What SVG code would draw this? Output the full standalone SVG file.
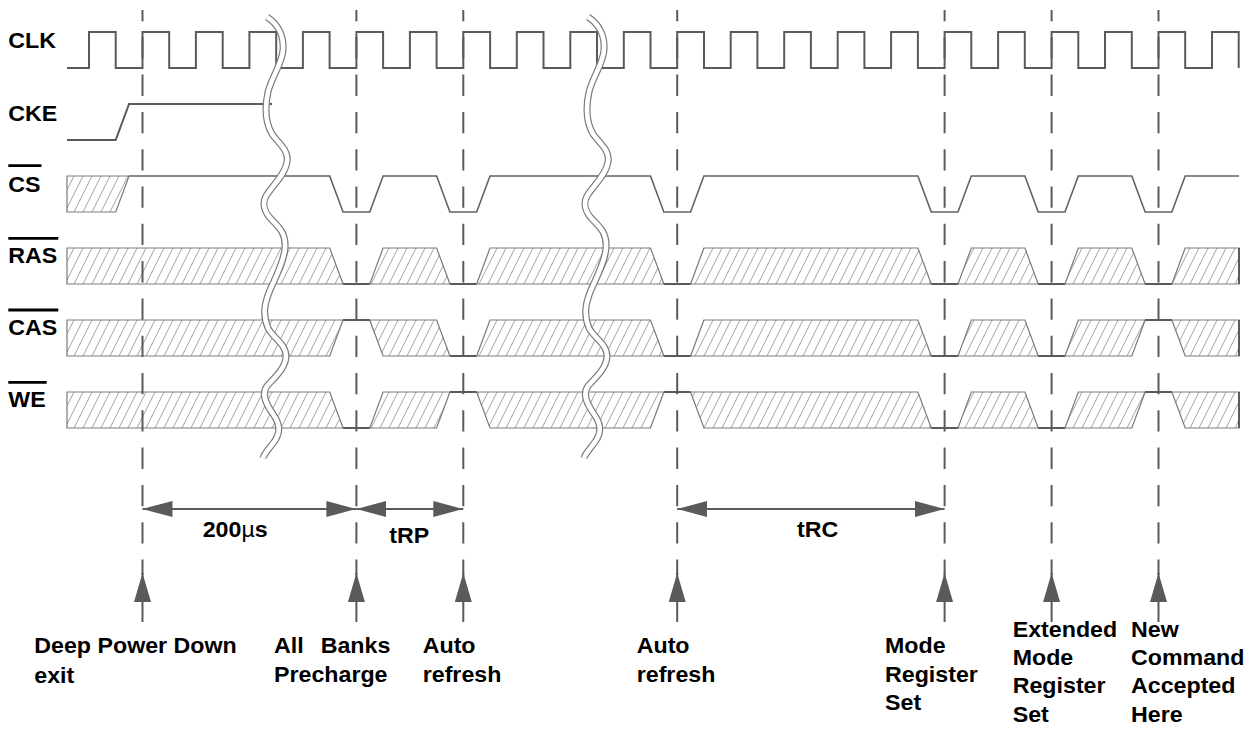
<svg xmlns="http://www.w3.org/2000/svg" width="1259" height="736" viewBox="0 0 1259 736">
<style>
.lbl{font-family:"Liberation Sans",Arial,sans-serif;font-weight:bold;font-size:21.5px;fill:#000}
.mu{font-weight:normal}
.sig{fill:none;stroke:#5a5a5a;stroke-width:2;stroke-linejoin:miter}
.cs{fill:none;stroke:#636363;stroke-width:1.6}
.hat{fill:url(#hatch);stroke:#7a7a7a;stroke-width:1.2}
.lvl{fill:none;stroke:#5a5a5a;stroke-width:2}
.dash{stroke:#5a5a5a;stroke-width:2;stroke-dasharray:21.3 16;stroke-dashoffset:10}
.ovl{stroke:#000;stroke-width:2.8}
.brkO{fill:none;stroke:#7a7a7a;stroke-width:7}
.brkI{fill:none;stroke:#fff;stroke-width:4.6}
.dim{stroke:#5a5a5a;stroke-width:2;marker-start:url(#dimHead);marker-end:url(#dimHead)}
.up{stroke:#5a5a5a;stroke-width:2;marker-end:url(#upHead)}
</style>
<defs>
<pattern id="hatch" patternUnits="userSpaceOnUse" width="9" height="18">
<path d="M-9,18 L0,0 M0,18 L9,0 M9,18 L18,0" stroke="#8c8c8c" stroke-width="0.8" fill="none"/>
</pattern>
<marker id="dimHead" viewBox="0 0 30 16" refX="30" refY="8" markerWidth="30" markerHeight="16" markerUnits="userSpaceOnUse" orient="auto-start-reverse">
<path d="M0,0 L30,8 L0,16 Z" fill="#5a5a5a"/>
</marker>
<marker id="upHead" viewBox="0 0 29 17" refX="29" refY="8.5" markerWidth="29" markerHeight="17" markerUnits="userSpaceOnUse" orient="auto">
<path d="M0,0 L29,8.5 L0,17 Z" fill="#5a5a5a"/>
</marker>
<path id="brk" d="M267,17 C278,24 284,36 283,50 C282,64 272,76 268,92 C265,106 265,122 272,134 C279,144 289,150 287,162 C285,175 272,186 266,196 C262,203 264,212 272,220 C280,228 286,234 285,248 C284,262 276,276 270,290 C265,302 262,314 268,328 C273,338 286,344 286,356 C286,368 274,378 267,386 C261,394 266,404 273,414 C280,424 281,432 274,442 C268,450 264,454 263,458"/>
</defs>

<g id="CLK">
<path class="sig" d="M67,68 H89 V32 H115.7 V68 H142.5 V32 H169.2 V68 H195.9 V32 H222.7 V68 H249.4 V32 H276.2 V68 H302.9 V32 H329.6 V68 H356.4 V32 H383.1 V68 H409.9 V32 H436.6 V68 H463.3 V32 H490.1 V68 H516.8 V32 H543.5 V68 H570.3 V32 H597 V68 H623.8 V32 H650.5 V68 H677.2 V32 H704 V68 H730.7 V32 H757.4 V68 H784.2 V32 H810.9 V68 H837.7 V32 H864.4 V68 H891.1 V32 H917.9 V68 H944.6 V32 H971.3 V68 H998.1 V32 H1024.8 V68 H1051.6 V32 H1078.3 V68 H1105 V32 H1131.8 V68 H1158.5 V32 H1185.2 V68 H1212 V32 H1238.7 V68"/>
</g>

<g id="CKE">
<path class="sig" d="M67,140 H115.7 L129.05,104 H272" stroke-width="1.8"/>
</g>

<g id="CS">
<polygon class="hat" points="67,176 129.05,176 115.7,212 67,212"/>
<path class="cs" d="M129.05,176 H329.7 L343.05,212 H369.75 L383.1,176 H436.6 L449.95,212 H476.65 L490,176 H650.5 L663.85,212 H690.55 L703.9,176 H917.9 L931.25,212 H957.95 L971.3,176 H1024.9 L1038.25,212 H1064.95 L1078.3,176 H1131.8 L1145.15,212 H1171.85 L1185.2,176 H1239"/>
</g>

<g id="RAS">
<polygon class="hat" points="67,248 329.7,248 343.05,284 67,284"/>
<polygon class="hat" points="369.75,284 383.1,248 436.6,248 449.95,284"/>
<polygon class="hat" points="476.65,284 490,248 650.5,248 663.85,284"/>
<polygon class="hat" points="690.55,284 703.9,248 917.9,248 931.25,284"/>
<polygon class="hat" points="957.95,284 971.3,248 1024.9,248 1038.25,284"/>
<polygon class="hat" points="1064.95,284 1078.3,248 1131.8,248 1145.15,284"/>
<polygon class="hat" points="1171.85,284 1185.2,248 1239,248 1239,284"/>
<path class="lvl" d="M343.05,284 H369.75 M449.95,284 H476.65 M663.85,284 H690.55 M931.25,284 H957.95 M1038.25,284 H1064.95 M1145.15,284 H1171.85 M1239,248 V284"/>
</g>

<g id="CAS">
<polygon class="hat" points="67,320 343.05,320 329.7,356 67,356"/>
<polygon class="hat" points="369.75,320 436.6,320 449.95,356 383.1,356"/>
<polygon class="hat" points="476.65,356 490,320 650.5,320 663.85,356"/>
<polygon class="hat" points="690.55,356 703.9,320 917.9,320 931.25,356"/>
<polygon class="hat" points="957.95,356 971.3,320 1024.9,320 1038.25,356"/>
<polygon class="hat" points="1064.95,356 1078.3,320 1145.15,320 1131.8,356"/>
<polygon class="hat" points="1171.85,320 1239,320 1239,356 1185.2,356"/>
<path class="lvl" d="M343.05,320 H369.75 M449.95,356 H476.65 M663.85,356 H690.55 M931.25,356 H957.95 M1038.25,356 H1064.95 M1145.15,320 H1171.85 M1239,320 V356"/>
</g>

<g id="WE">
<polygon class="hat" points="67,392 329.7,392 343.05,428 67,428"/>
<polygon class="hat" points="369.75,428 383.1,392 449.95,392 436.6,428"/>
<polygon class="hat" points="476.65,392 663.85,392 650.5,428 490,428"/>
<polygon class="hat" points="690.55,392 917.9,392 931.25,428 703.9,428"/>
<polygon class="hat" points="957.95,428 971.3,392 1024.9,392 1038.25,428"/>
<polygon class="hat" points="1064.95,428 1078.3,392 1145.15,392 1131.8,428"/>
<polygon class="hat" points="1171.85,392 1239,392 1239,428 1185.2,428"/>
<path class="lvl" d="M343.05,428 H369.75 M449.95,392 H476.65 M663.85,392 H690.55 M931.25,428 H957.95 M1038.25,428 H1064.95 M1145.15,392 H1171.85 M1239,392 V428"/>
</g>

<g id="guides">
<line class="dash" x1="142.5" y1="10" x2="142.5" y2="575"/>
<line class="dash" x1="356.4" y1="10" x2="356.4" y2="575"/>
<line class="dash" x1="463.3" y1="10" x2="463.3" y2="575"/>
<line class="dash" x1="677.2" y1="10" x2="677.2" y2="575"/>
<line class="dash" x1="944.6" y1="10" x2="944.6" y2="575"/>
<line class="dash" x1="1051.6" y1="10" x2="1051.6" y2="575"/>
<line class="dash" x1="1158.5" y1="10" x2="1158.5" y2="575"/>
</g>

<g id="breaks">
<use href="#brk" class="brkO"/>
<use href="#brk" class="brkI"/>
<use href="#brk" class="brkO" transform="translate(321,0)"/>
<use href="#brk" class="brkI" transform="translate(321,0)"/>
</g>

<g id="signal-labels">
<text class="lbl" transform="translate(8.3,48.3) scale(1.08,1)">CLK</text>
<text class="lbl" transform="translate(8.3,120.5) scale(1.08,1)">CKE</text>
<text class="lbl" transform="translate(8.3,191.7) scale(1.08,1)">CS</text>
<text class="lbl" transform="translate(8.3,263.3) scale(1.08,1)">RAS</text>
<text class="lbl" transform="translate(8.3,335) scale(1.08,1)">CAS</text>
<text class="lbl" transform="translate(8.3,407.3) scale(1.08,1)">WE</text>
<line class="ovl" x1="8.3" y1="165.7" x2="41.5" y2="165.7"/>
<line class="ovl" x1="8.3" y1="238.3" x2="58.3" y2="238.3"/>
<line class="ovl" x1="8.3" y1="310" x2="58.3" y2="310"/>
<line class="ovl" x1="8.3" y1="382.3" x2="46.7" y2="382.3"/>
</g>

<g id="connectors">
<line class="dim" x1="142.5" y1="509" x2="356.4" y2="509"/>
<line class="dim" x1="356.4" y1="509" x2="463.3" y2="509"/>
<line class="dim" x1="677.2" y1="509" x2="944.6" y2="509"/>
<line class="up" x1="142.5" y1="622" x2="142.5" y2="573"/>
<line class="up" x1="356.4" y1="622" x2="356.4" y2="573"/>
<line class="up" x1="463.3" y1="622" x2="463.3" y2="573"/>
<line class="up" x1="677.2" y1="622" x2="677.2" y2="573"/>
<line class="up" x1="944.6" y1="622" x2="944.6" y2="573"/>
<line class="up" x1="1051.6" y1="622" x2="1051.6" y2="573"/>
<line class="up" x1="1158.5" y1="622" x2="1158.5" y2="573"/>
</g>

<g id="timing-labels">
<text class="lbl" transform="translate(202.7,536.7) scale(1.08,1)">200<tspan class="mu">µ</tspan>s</text>
<text class="lbl" transform="translate(389.3,543.3) scale(1.08,1)">tRP</text>
<text class="lbl" transform="translate(797,536.7) scale(1.08,1)">tRC</text>
</g>

<g id="ev-dpd"><text class="lbl" transform="translate(34.3,0) scale(1.08,1)"><tspan x="0" y="653">Deep Power Down</tspan><tspan x="0" y="683">exit</tspan></text></g>
<g id="ev-pre"><text class="lbl" transform="translate(274,0) scale(1.08,1)"><tspan x="0" y="653">All <tspan x="43.2">Banks</tspan></tspan><tspan x="0" y="682">Precharge</tspan></text></g>
<g id="ev-ar1"><text class="lbl" transform="translate(422.7,0) scale(1.08,1)"><tspan x="0" y="653">Auto</tspan><tspan x="0" y="682">refresh</tspan></text></g>
<g id="ev-ar2"><text class="lbl" transform="translate(636.7,0) scale(1.08,1)"><tspan x="0" y="653">Auto</tspan><tspan x="0" y="682">refresh</tspan></text></g>
<g id="ev-mrs"><text class="lbl" transform="translate(885,0) scale(1.08,1)"><tspan x="0" y="653">Mode</tspan><tspan x="0" y="682">Register</tspan><tspan x="0" y="710">Set</tspan></text></g>
<g id="ev-emrs"><text class="lbl" transform="translate(1012.7,0) scale(1.08,1)"><tspan x="0" y="637">Extended</tspan><tspan x="0" y="665">Mode</tspan><tspan x="0" y="693.5">Register</tspan><tspan x="0" y="722">Set</tspan></text></g>
<g id="ev-new"><text class="lbl" transform="translate(1131,0) scale(1.08,1)"><tspan x="0" y="637">New</tspan><tspan x="0" y="665">Command</tspan><tspan x="0" y="693.5">Accepted</tspan><tspan x="0" y="722">Here</tspan></text></g>
</svg>
